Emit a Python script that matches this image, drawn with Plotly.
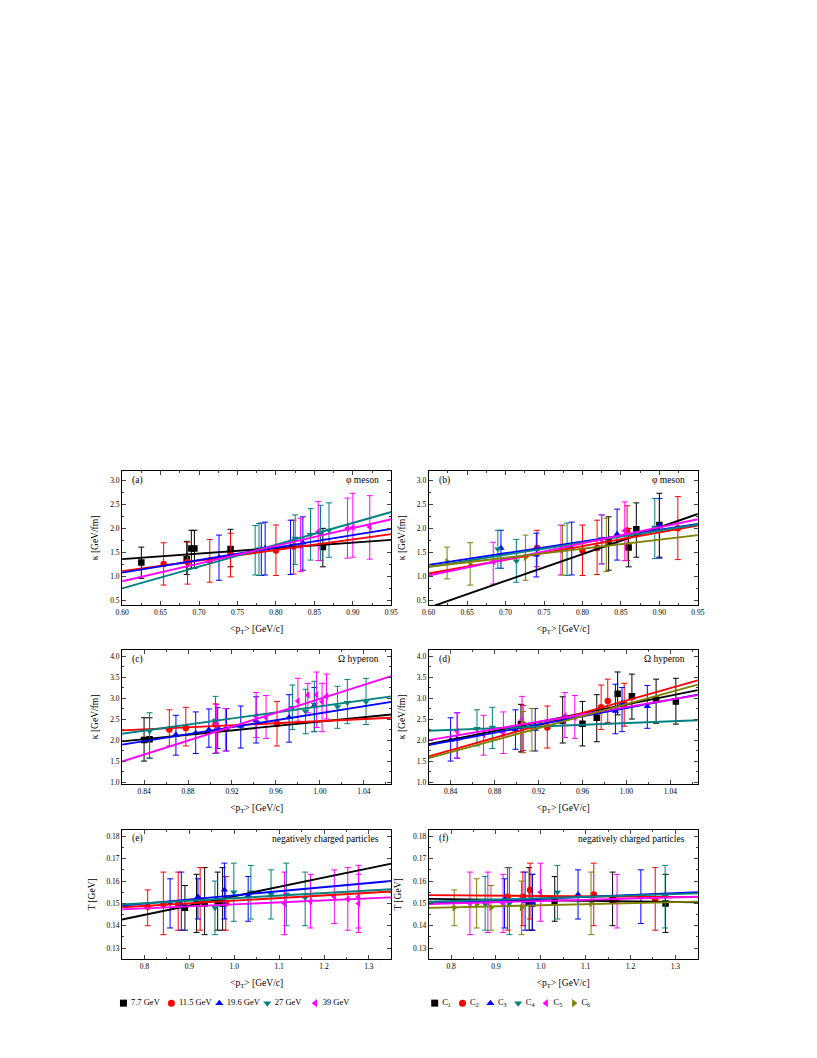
import plotly.graph_objects as go

ENERGIES = ["7.7 GeV", "11.5 GeV", "19.6 GeV", "27 GeV", "39 GeV"]
CENTRALITIES = ["C<sub>1</sub>", "C<sub>2</sub>", "C<sub>3</sub>",
                "C<sub>4</sub>", "C<sub>5</sub>", "C<sub>6</sub>"]

# every point: (<pT>, value, top of error bar, bottom of error bar)

# (a) phi meson, by energy
a_77 = [(0.625, 1.29, 1.61, 0.96), (0.684, 1.36, 1.73, 1.04), (0.690, 1.58, 1.96, 1.17),
        (0.694, 1.58, 1.96, 1.17), (0.741, 1.57, 1.98, 1.20), (0.861, 1.61, 2.00, 1.20)]
a_115 = [(0.654, 1.26, 1.70, 0.82), (0.685, 1.30, 1.71, 0.84), (0.714, 1.33, 1.77, 0.88),
         (0.741, 1.47, 1.90, 0.99), (0.800, 1.54, 2.07, 1.02), (0.823, 1.62, 2.17, 1.05)]
a_196 = [(0.726, 1.40, 1.86, 0.92), (0.781, 1.57, 2.11, 1.02), (0.786, 1.59, 2.13, 1.03),
         (0.819, 1.62, 2.17, 1.04), (0.835, 1.70, 2.24, 1.13)]
a_27 = [(0.773, 1.53, 2.06, 1.03), (0.778, 1.57, 2.10, 1.02), (0.825, 1.79, 2.28, 1.25),
        (0.845, 1.87, 2.41, 1.34), (0.858, 1.90, 2.48, 1.33), (0.869, 1.96, 2.53, 1.40)]
a_39 = [(0.832, 1.65, 2.21, 1.10), (0.855, 1.93, 2.56, 1.33), (0.893, 2.00, 2.63, 1.38),
        (0.900, 2.02, 2.73, 1.40), (0.922, 2.03, 2.68, 1.36)]
a_fit_x = [0.60, 0.95]
a_fit = [[1.36, 1.76], [1.11, 1.88], [1.08, 1.99], [0.75, 2.34], [0.90, 2.19]]

# (b) phi meson, by centrality
b_c1 = [(0.834, 1.71, 2.24, 1.13), (0.860, 1.60, 2.00, 1.20), (0.870, 1.98, 2.53, 1.40),
        (0.900, 2.07, 2.73, 1.40)]
b_c2 = [(0.741, 1.59, 1.96, 1.20), (0.800, 1.54, 2.07, 1.02), (0.819, 1.59, 2.17, 1.04),
        (0.858, 1.95, 2.47, 1.33), (0.924, 2.00, 2.66, 1.35)]
b_c3 = [(0.694, 1.59, 1.96, 1.17), (0.740, 1.45, 1.90, 0.99), (0.786, 1.60, 2.13, 1.03),
        (0.845, 1.88, 2.40, 1.34), (0.900, 2.06, 2.62, 1.38)]
b_c4 = [(0.690, 1.57, 1.96, 1.17), (0.714, 1.32, 1.77, 0.88), (0.780, 1.61, 2.11, 1.02),
        (0.825, 1.78, 2.28, 1.26), (0.894, 2.02, 2.62, 1.37)]
b_c5 = [(0.684, 1.31, 1.71, 0.84), (0.772, 1.55, 2.07, 1.03), (0.825, 1.76, 2.28, 1.26),
        (0.855, 1.95, 2.55, 1.33)]
b_c6 = [(0.624, 1.31, 1.61, 0.95), (0.654, 1.25, 1.70, 0.82), (0.726, 1.40, 1.86, 0.92),
        (0.774, 1.55, 2.06, 1.03), (0.831, 1.66, 2.21, 1.10)]
b_fit_x = [0.60, 0.95]
b_fit = [[0.35, 2.30], [1.06, 2.06], [1.24, 2.09], [1.20, 2.08], [1.02, 2.19], [1.20, 1.86]]

# (c) Omega hyperon, by energy
c_77 = [(0.840, 2.00, 2.53, 1.50), (0.845, 2.02, 2.53, 1.57)]
c_115 = [(0.863, 2.25, 2.72, 1.86), (0.878, 2.29, 2.78, 1.86), (0.905, 2.37, 2.86, 1.68),
         (0.961, 2.39, 2.92, 1.86)]
c_196 = [(0.869, 2.13, 2.59, 1.64), (0.887, 2.17, 2.67, 1.68), (0.899, 2.25, 2.74, 1.83),
         (0.907, 2.30, 2.77, 1.80), (0.915, 2.26, 2.75, 1.74), (0.928, 2.33, 2.81, 1.81),
         (0.942, 2.46, 3.03, 1.93), (0.972, 2.54, 3.08, 1.95), (0.995, 2.82, 3.25, 2.20)]
c_27 = [(0.845, 2.21, 2.65, 1.56), (0.905, 2.47, 3.04, 1.68), (0.975, 2.77, 3.31, 2.25),
        (0.987, 2.68, 3.21, 2.15), (0.995, 2.85, 3.40, 2.20), (1.016, 2.79, 3.28, 2.28),
        (1.025, 2.89, 3.44, 2.39), (1.042, 2.91, 3.47, 2.37)]
c_39 = [(0.906, 2.38, 2.85, 1.70), (0.914, 2.27, 2.75, 1.74), (0.942, 2.56, 3.13, 2.06),
        (0.951, 2.54, 3.06, 2.04), (0.980, 2.93, 3.47, 2.45), (0.989, 3.07, 3.35, 2.65),
        (0.997, 3.08, 3.62, 2.30), (1.002, 2.91, 3.35, 2.20), (1.006, 3.04, 3.57, 2.50)]
c_fit_x = [0.82, 1.065]
c_fit = [[1.97, 2.61], [2.23, 2.53], [1.89, 2.91], [2.15, 3.04], [1.49, 3.52]]

# (d) Omega hyperon, by centrality
d_c1 = [(0.904, 2.38, 2.85, 1.72), (0.942, 2.46, 3.03, 1.93), (0.960, 2.39, 2.92, 1.86),
        (0.973, 2.53, 3.08, 1.96), (0.992, 3.10, 3.62, 2.60), (1.005, 3.04, 3.57, 2.50),
        (1.027, 2.96, 3.45, 2.40), (1.045, 2.92, 3.47, 2.38)]
d_c2 = [(0.906, 2.37, 2.82, 1.75), (0.928, 2.30, 2.81, 1.81), (0.977, 2.78, 3.31, 2.25),
        (0.983, 2.93, 3.45, 2.42), (0.998, 2.86, 3.35, 2.33)]
d_c3 = [(0.840, 2.00, 2.53, 1.50), (0.846, 2.03, 2.65, 1.57), (0.899, 2.25, 2.72, 1.78),
        (0.917, 2.26, 2.75, 1.74), (0.990, 2.69, 3.33, 2.15), (0.996, 2.88, 3.25, 2.20),
        (1.019, 2.80, 3.30, 2.28)]
d_c4 = [(0.864, 2.27, 2.72, 1.86), (0.878, 2.30, 2.78, 1.80)]
d_c5 = [(0.846, 2.21, 2.65, 1.57), (0.870, 2.13, 2.59, 1.64), (0.888, 2.17, 2.67, 1.68),
        (0.905, 2.48, 3.04, 1.70), (0.944, 2.57, 3.13, 2.06), (0.953, 2.54, 3.06, 2.04)]
d_c6 = [(0.906, 2.40, 2.68, 1.70), (0.914, 2.27, 2.75, 1.74)]
d_fit_x = [0.82, 1.065]
d_fit = [[1.90, 3.19], [1.61, 3.42], [1.88, 3.08], [2.22, 2.47], [2.00, 3.07], [1.57, 3.32]]

# (e) negatively charged particles, by energy
e_77 = [(0.890, 0.148, 0.158, 0.138), (0.916, 0.1505, 0.163, 0.137), (0.934, 0.150, 0.166, 0.136),
        (0.963, 0.151, 0.164, 0.138), (0.974, 0.150, 0.166, 0.138)]
e_115 = [(0.807, 0.1485, 0.156, 0.140), (0.842, 0.1497, 0.164, 0.136), (0.875, 0.1495, 0.164, 0.138),
         (0.924, 0.1513, 0.166, 0.138), (0.981, 0.150, 0.162, 0.138)]
e_196 = [(0.857, 0.150, 0.161, 0.139), (0.882, 0.1497, 0.164, 0.138), (0.919, 0.153, 0.161, 0.143),
         (0.978, 0.156, 0.168, 0.143), (1.031, 0.1535, 0.162, 0.142)]
e_27 = [(0.957, 0.148, 0.160, 0.136), (0.999, 0.155, 0.168, 0.142), (1.037, 0.155, 0.167, 0.143),
        (1.082, 0.154, 0.165, 0.143), (1.116, 0.154, 0.168, 0.140), (1.158, 0.1525, 0.164, 0.140)]
e_39 = [(1.112, 0.150, 0.164, 0.136), (1.170, 0.151, 0.163, 0.139), (1.223, 0.153, 0.165, 0.141),
        (1.253, 0.152, 0.166, 0.138), (1.277, 0.153, 0.167, 0.139), (1.277, 0.150, 0.163, 0.137)]
e_fit_x = [0.75, 1.35]
e_fit = [[0.1428, 0.1678], [0.1483, 0.1553], [0.149, 0.160], [0.1495, 0.1563], [0.1473, 0.1527]]

# (f) negatively charged particles, by centrality
f_c1 = [(0.974, 0.1505, 0.166, 0.138), (0.981, 0.150, 0.163, 0.138), (1.031, 0.151, 0.162, 0.142),
        (1.160, 0.1515, 0.164, 0.140), (1.278, 0.150, 0.163, 0.137)]
f_c2 = [(0.926, 0.153, 0.166, 0.138), (0.960, 0.153, 0.164, 0.140), (0.976, 0.156, 0.168, 0.143),
        (1.118, 0.154, 0.168, 0.140), (1.255, 0.152, 0.166, 0.138)]
f_c3 = [(0.919, 0.152, 0.161, 0.139), (0.965, 0.151, 0.164, 0.138), (0.981, 0.150, 0.163, 0.138),
        (1.083, 0.154, 0.165, 0.143), (1.223, 0.153, 0.165, 0.141)]
f_c4 = [(0.876, 0.1497, 0.162, 0.138), (0.930, 0.150, 0.166, 0.136), (1.037, 0.155, 0.167, 0.143),
        (1.277, 0.153, 0.167, 0.139)]
f_c5 = [(0.842, 0.150, 0.164, 0.136), (0.882, 0.1505, 0.164, 0.137), (0.916, 0.150, 0.163, 0.137),
        (0.999, 0.155, 0.168, 0.142), (1.170, 0.151, 0.163, 0.139)]
f_c6 = [(0.807, 0.148, 0.156, 0.140), (0.857, 0.1495, 0.161, 0.139), (0.889, 0.148, 0.158, 0.138),
        (0.957, 0.148, 0.160, 0.136), (1.112, 0.150, 0.164, 0.136)]
f_fit_x = [0.75, 1.35]
f_fit = [[0.152, 0.1505], [0.1537, 0.1528], [0.150, 0.155], [0.1507, 0.1545], [0.1497, 0.1530],
         [0.148, 0.1508]]

COLORS = ["#000000", "#ff0000", "#0000ff", "#008080", "#ff00ff", "#808000"]
SYMBOLS = ["square", "circle", "triangle-up", "triangle-down", "triangle-left", "triangle-right"]
FONT = "Liberation Serif"

# the page body keeps an 8px margin, so the figure is 16px smaller than the window
W, H, PAD = 801, 1042, 8


def fx(px):
    return (px - PAD) / W


def fy(py):
    return (H + PAD - py) / H


fig = go.Figure()


def add_panel(n, series, fit_x, fits):
    xa = "x" if n == 1 else f"x{n}"
    ya = "y" if n == 1 else f"y{n}"
    for pts, col, sym in zip(series, COLORS, SYMBOLS):
        fig.add_trace(go.Scatter(
            x=[p[0] for p in pts],
            y=[p[1] for p in pts],
            mode="markers",
            marker=dict(symbol=sym, color=col, size=6.5),
            error_y=dict(type="data", symmetric=False,
                         array=[p[2] - p[1] for p in pts],
                         arrayminus=[p[1] - p[3] for p in pts],
                         color=col, thickness=1, width=3),
            xaxis=xa, yaxis=ya, showlegend=False, hoverinfo="skip",
        ))
    for fy_, col in zip(fits, COLORS):
        fig.add_trace(go.Scatter(
            x=fit_x, y=fy_, mode="lines", line=dict(color=col, width=1.9),
            xaxis=xa, yaxis=ya, showlegend=False, hoverinfo="skip",
        ))


add_panel(1, [a_77, a_115, a_196, a_27, a_39], a_fit_x, a_fit)
add_panel(2, [b_c1, b_c2, b_c3, b_c4, b_c5, b_c6], b_fit_x, b_fit)
add_panel(3, [c_77, c_115, c_196, c_27, c_39], c_fit_x, c_fit)
add_panel(4, [d_c1, d_c2, d_c3, d_c4, d_c5, d_c6], d_fit_x, d_fit)
add_panel(5, [e_77, e_115, e_196, e_27, e_39], e_fit_x, e_fit)
add_panel(6, [f_c1, f_c2, f_c3, f_c4, f_c5, f_c6], f_fit_x, f_fit)

# legend rows, drawn on two hidden category axes
fig.add_trace(go.Scatter(
    x=ENERGIES, y=[0] * len(ENERGIES), mode="markers+text",
    marker=dict(symbol=SYMBOLS[:5], color=COLORS[:5], size=7),
    text=["\u00a0" + t for t in ENERGIES], textposition="middle right",
    textfont=dict(family=FONT, size=8.5, color="black"),
    xaxis="x7", yaxis="y7", showlegend=False, hoverinfo="skip", cliponaxis=False,
))
fig.add_trace(go.Scatter(
    x=CENTRALITIES, y=[0] * len(CENTRALITIES), mode="markers+text",
    marker=dict(symbol=SYMBOLS, color=COLORS, size=7),
    text=["\u00a0" + t for t in CENTRALITIES], textposition="middle right",
    textfont=dict(family=FONT, size=8.5, color="black"),
    xaxis="x8", yaxis="y8", showlegend=False, hoverinfo="skip", cliponaxis=False,
))

XL = [fx(117), fx(391)]
XR = [fx(429), fx(703)]
ROWS = [[fy(607), fy(472)], [fy(786), fy(652)], [fy(962), fy(832)]]
LEG_Y = [fy(1016), fy(996)]

PT_TITLE = "&lt;p<sub>T</sub>&gt; [GeV/c]"


def axis_common(rng, dtick, minor, fmt, title, standoff):
    return dict(range=rng, dtick=dtick, tick0=0,
                tickformat=fmt, ticks="inside", ticklen=4, tickwidth=1,
                minor=dict(ticks="inside", ticklen=2, dtick=minor, tick0=0),
                showline=True, linecolor="black", linewidth=1, mirror="allticks",
                showgrid=False, zeroline=False,
                tickfont=dict(family=FONT, size=7.5, color="black"),
                title=dict(text=title, standoff=standoff,
                           font=dict(family=FONT, size=9.5, color="black")))


def xaxis(domain, anchor, rng, dtick, minor, fmt):
    d = axis_common(rng, dtick, minor, fmt, PT_TITLE, 9)
    d.update(domain=domain, anchor=anchor)
    return d


def yaxis(domain, anchor, rng, dtick, minor, fmt, title):
    d = axis_common(rng, dtick, minor, fmt, title, 9)
    d.update(domain=domain, anchor=anchor)
    return d


KAPPA = "\u03ba [GeV/fm]"
TEMP = "T [GeV]"

fig.update_layout(
    width=W, height=H,
    margin=dict(l=0, r=0, t=0, b=0),
    paper_bgcolor="white", plot_bgcolor="white",
    font=dict(family=FONT, color="black"),
    xaxis=xaxis(XL, "y", [0.60, 0.95], 0.05, 0.025, ".2f"),
    yaxis=yaxis(ROWS[0], "x", [0.4, 3.2], 0.5, 0.25, ".1f", KAPPA),
    xaxis2=xaxis(XR, "y2", [0.60, 0.95], 0.05, 0.025, ".2f"),
    yaxis2=yaxis(ROWS[0], "x2", [0.4, 3.2], 0.5, 0.25, ".1f", KAPPA),
    xaxis3=xaxis(XL, "y3", [0.82, 1.065], 0.04, 0.02, ".2f"),
    yaxis3=yaxis(ROWS[1], "x3", [0.96, 4.14], 0.5, 0.25, ".1f", KAPPA),
    xaxis4=xaxis(XR, "y4", [0.82, 1.065], 0.04, 0.02, ".2f"),
    yaxis4=yaxis(ROWS[1], "x4", [0.96, 4.14], 0.5, 0.25, ".1f", KAPPA),
    xaxis5=xaxis(XL, "y5", [0.75, 1.35], 0.1, 0.05, ".1f"),
    yaxis5=yaxis(ROWS[2], "x5", [0.125, 0.183], 0.01, 0.005, ".2f", TEMP),
    xaxis6=xaxis(XR, "y6", [0.75, 1.35], 0.1, 0.05, ".1f"),
    yaxis6=yaxis(ROWS[2], "x6", [0.125, 0.183], 0.01, 0.005, ".2f", TEMP),
    xaxis7=dict(domain=[fx(94), fx(338)], anchor="y7", type="category",
                range=[-0.5, 4.5], visible=False),
    yaxis7=dict(domain=LEG_Y, anchor="x7", range=[-1, 1], visible=False),
    xaxis8=dict(domain=[fx(421), fx(591)], anchor="y8", type="category",
                range=[-0.5, 5.5], visible=False),
    yaxis8=dict(domain=LEG_Y, anchor="x8", range=[-1, 1], visible=False),
)

PANEL_TEXT = [("(a)", "\u03c6 meson"), ("(b)", "\u03c6 meson"),
              ("(c)", "\u03a9 hyperon"), ("(d)", "\u03a9 hyperon"),
              ("(e)", "negatively charged particles"), ("(f)", "negatively charged particles")]

for i, (tag, label) in enumerate(PANEL_TEXT, start=1):
    ref = "" if i == 1 else str(i)
    fig.add_annotation(text=tag, xref=f"x{ref} domain", yref=f"y{ref} domain",
                       x=0.03, y=0.93, xanchor="left", yanchor="middle", showarrow=False,
                       font=dict(family=FONT, size=9.5, color="black"))
    fig.add_annotation(text=label, xref=f"x{ref} domain", yref=f"y{ref} domain",
                       x=0.96, y=0.93, xanchor="right", yanchor="middle", showarrow=False,
                       font=dict(family=FONT, size=9.5, color="black"))

fig.write_html("out.html")
